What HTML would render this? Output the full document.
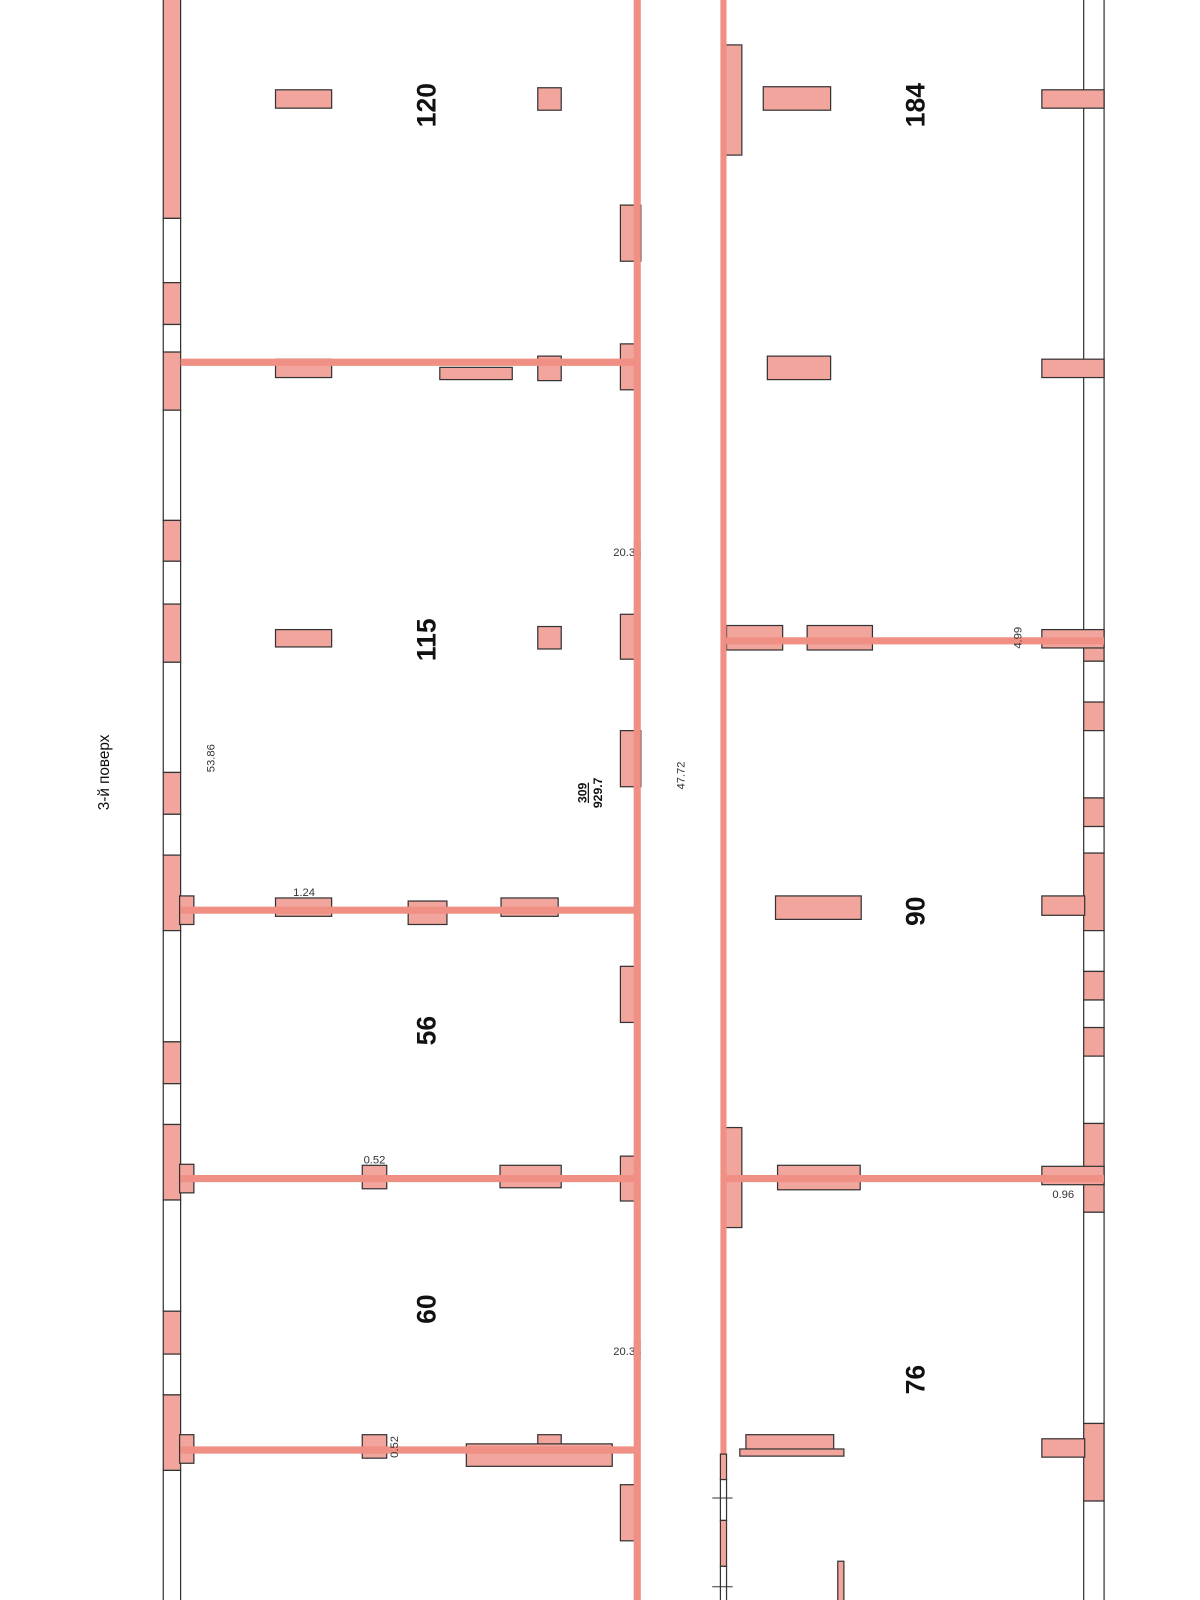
<!DOCTYPE html>
<html><head><meta charset="utf-8"><style>
html,body{margin:0;padding:0;background:#fff;}
svg{display:block;}
text{font-family:"Liberation Sans","Noto Sans CJK SC",sans-serif;fill:#111;}
.p{fill:#f2a59d;stroke:#333;stroke-width:1.2;}
.w{fill:#fff;stroke:#333;stroke-width:1.2;}
.l{stroke:#f08f83;stroke-width:7;}
.big{font-size:26px;font-weight:bold;}
.sm{font-size:11px;fill:#333;}
</style></head><body>
<svg width="1200" height="1600" viewBox="0 0 1176 1568" xmlns="http://www.w3.org/2000/svg">
<!-- left outer wall -->
<g>
<rect class="p" x="160" y="-2" width="17" height="216"/>
<rect class="w" x="160" y="214" width="17" height="63"/>
<rect class="p" x="160" y="277" width="17" height="41"/>
<rect class="w" x="160" y="318" width="17" height="27"/>
<rect class="p" x="160" y="345" width="17" height="57"/>
<rect class="w" x="160" y="402" width="17" height="108"/>
<rect class="p" x="160" y="510" width="17" height="40"/>
<rect class="w" x="160" y="550" width="17" height="42"/>
<rect class="p" x="160" y="592" width="17" height="57"/>
<rect class="w" x="160" y="649" width="17" height="108"/>
<rect class="p" x="160" y="757" width="17" height="41"/>
<rect class="w" x="160" y="798" width="17" height="40"/>
<rect class="p" x="160" y="838" width="17" height="74"/>
<rect class="p" x="176" y="878" width="14" height="28"/>
<rect class="w" x="160" y="912" width="17" height="109"/>
<rect class="p" x="160" y="1021" width="17" height="41"/>
<rect class="w" x="160" y="1062" width="17" height="40"/>
<rect class="p" x="160" y="1102" width="17" height="74"/>
<rect class="p" x="176" y="1141" width="14" height="28"/>
<rect class="w" x="160" y="1176" width="17" height="109"/>
<rect class="p" x="160" y="1285" width="17" height="42"/>
<rect class="w" x="160" y="1327" width="17" height="40"/>
<rect class="p" x="160" y="1367" width="17" height="74"/>
<rect class="p" x="176" y="1406" width="14" height="28"/>
<rect class="w" x="160" y="1441" width="17" height="130"/>
</g>
<!-- right outer wall -->
<g>
<rect class="w" x="1062" y="-2" width="20" height="620"/>
<rect class="p" x="1062" y="618" width="20" height="30"/>
<rect class="w" x="1062" y="648" width="20" height="40"/>
<rect class="p" x="1062" y="688" width="20" height="28"/>
<rect class="w" x="1062" y="716" width="20" height="66"/>
<rect class="p" x="1062" y="782" width="20" height="28"/>
<rect class="w" x="1062" y="810" width="20" height="26"/>
<rect class="p" x="1062" y="836" width="20" height="76"/>
<rect class="w" x="1062" y="912" width="20" height="40"/>
<rect class="p" x="1062" y="952" width="20" height="28"/>
<rect class="w" x="1062" y="980" width="20" height="27"/>
<rect class="p" x="1062" y="1007" width="20" height="28"/>
<rect class="w" x="1062" y="1035" width="20" height="66"/>
<rect class="p" x="1062" y="1101" width="20" height="87"/>
<rect class="w" x="1062" y="1188" width="20" height="207"/>
<rect class="p" x="1062" y="1395" width="20" height="76"/>
<rect class="w" x="1062" y="1471" width="20" height="100"/>
<rect class="p" x="1021" y="88" width="61" height="18"/>
<rect class="p" x="1021" y="352" width="61" height="18"/>
<rect class="p" x="1021" y="617" width="61" height="18"/>
<rect class="p" x="1021" y="878" width="42" height="19"/>
<rect class="p" x="1021" y="1143" width="61" height="18"/>
<rect class="p" x="1021" y="1410" width="42" height="18"/>
</g>
<!-- piers left block -->
<g>
<rect class="p" x="270" y="88" width="55" height="18"/>
<rect class="p" x="527" y="86" width="23" height="22"/>
<rect class="p" x="608" y="201" width="20" height="55"/>
<rect class="p" x="270" y="352" width="55" height="18"/>
<rect class="p" x="431" y="360" width="71" height="12"/>
<rect class="p" x="527" y="349" width="23" height="24"/>
<rect class="p" x="608" y="337" width="14" height="45"/>
<rect class="p" x="270" y="617" width="55" height="17"/>
<rect class="p" x="527" y="614" width="23" height="22"/>
<rect class="p" x="608" y="602" width="14" height="44"/>
<rect class="p" x="608" y="716" width="20" height="55"/>
<rect class="p" x="270" y="880" width="55" height="18"/>
<rect class="p" x="400" y="883" width="38" height="23"/>
<rect class="p" x="491" y="880" width="56" height="18"/>
<rect class="p" x="608" y="947" width="14" height="55"/>
<rect class="p" x="355" y="1142" width="24" height="23"/>
<rect class="p" x="490" y="1142" width="60" height="22"/>
<rect class="p" x="608" y="1133" width="14" height="44"/>
<rect class="p" x="355" y="1406" width="24" height="23"/>
<rect class="p" x="527" y="1406" width="23" height="14"/>
<rect class="p" x="457" y="1415" width="143" height="22"/>
<rect class="p" x="608" y="1455" width="14" height="55"/>
</g>
<!-- piers right block -->
<g>
<rect class="p" x="710" y="44" width="17" height="108"/>
<rect class="p" x="748" y="85" width="66" height="23"/>
<rect class="p" x="752" y="349" width="62" height="23"/>
<rect class="p" x="712" y="613" width="55" height="24"/>
<rect class="p" x="791" y="613" width="64" height="24"/>
<rect class="p" x="760" y="878" width="84" height="23"/>
<rect class="p" x="710" y="1105" width="17" height="98"/>
<rect class="p" x="762" y="1142" width="81" height="24"/>
<rect class="p" x="731" y="1406" width="86" height="17"/>
<rect class="p" x="725" y="1420" width="102" height="7"/>
<rect class="p" x="821" y="1530" width="6" height="40"/>
</g>
<!-- lines -->
<g>
<line class="l" x1="624.5" y1="-2" x2="624.5" y2="1570"/>
<line class="l" x1="709" y1="-2" x2="709" y2="1425" style="stroke-width:6"/>
<line class="l" x1="177" y1="355" x2="622" y2="355"/>
<line class="l" x1="177" y1="892" x2="622" y2="892"/>
<line class="l" x1="177" y1="1155" x2="622" y2="1155"/>
<line class="l" x1="177" y1="1421" x2="622" y2="1421"/>
<line class="l" x1="712" y1="628" x2="1082" y2="628"/>
<line class="l" x1="712" y1="1155" x2="1082" y2="1155"/>
</g>
<!-- bottom corridor wall with windows -->
<g>
<rect class="p" x="706" y="1425" width="6" height="25"/>
<rect class="w" x="706" y="1450" width="6" height="40"/>
<rect class="p" x="706" y="1490" width="6" height="45"/>
<rect class="w" x="706" y="1535" width="6" height="36"/>
<line x1="698" y1="1468" x2="718" y2="1468" stroke="#333" stroke-width="1"/>
<line x1="698" y1="1555" x2="718" y2="1555" stroke="#333" stroke-width="1"/>
</g>
<!-- labels -->
<g class="big">
<text class="big" transform="translate(427,103) rotate(-90)" text-anchor="middle">120</text>
<text class="big" transform="translate(427,627) rotate(-90)" text-anchor="middle">115</text>
<text class="big" transform="translate(427,1010) rotate(-90)" text-anchor="middle">56</text>
<text class="big" transform="translate(427,1283) rotate(-90)" text-anchor="middle">60</text>
<text class="big" transform="translate(906,103) rotate(-90)" text-anchor="middle">184</text>
<text class="big" transform="translate(906,893) rotate(-90)" text-anchor="middle">90</text>
<text class="big" transform="translate(906,1352) rotate(-90)" text-anchor="middle">76</text>
</g>
<text transform="translate(107,757) rotate(-90)" text-anchor="middle" style="font-size:15px">3-й поверх</text>
<text class="sm" transform="translate(210,743) rotate(-90)" text-anchor="middle">53.86</text>
<text transform="translate(575,777) rotate(-90)" text-anchor="middle" style="font-size:12px;font-weight:bold;text-decoration:underline">309</text>
<text transform="translate(590,777) rotate(-90)" text-anchor="middle" style="font-size:12px;font-weight:bold">929.7</text>
<text class="sm" transform="translate(671,760) rotate(-90)" text-anchor="middle">47.72</text>
<text class="sm" transform="translate(1001,625) rotate(-90)" text-anchor="middle">4.99</text>
<text class="sm" transform="translate(390,1418) rotate(-90)" text-anchor="middle">0.52</text>
<text class="sm" x="601" y="545">20.33</text>
<text class="sm" x="601" y="1328">20.33</text>
<text class="sm" x="298" y="878" text-anchor="middle">1.24</text>
<text class="sm" x="367" y="1140" text-anchor="middle">0.52</text>
<text class="sm" x="1042" y="1174" text-anchor="middle">0.96</text>
<line class="l" x1="624.5" y1="530" x2="624.5" y2="550"/>
<line class="l" x1="624.5" y1="1313" x2="624.5" y2="1333"/>
</svg>
</body></html>
